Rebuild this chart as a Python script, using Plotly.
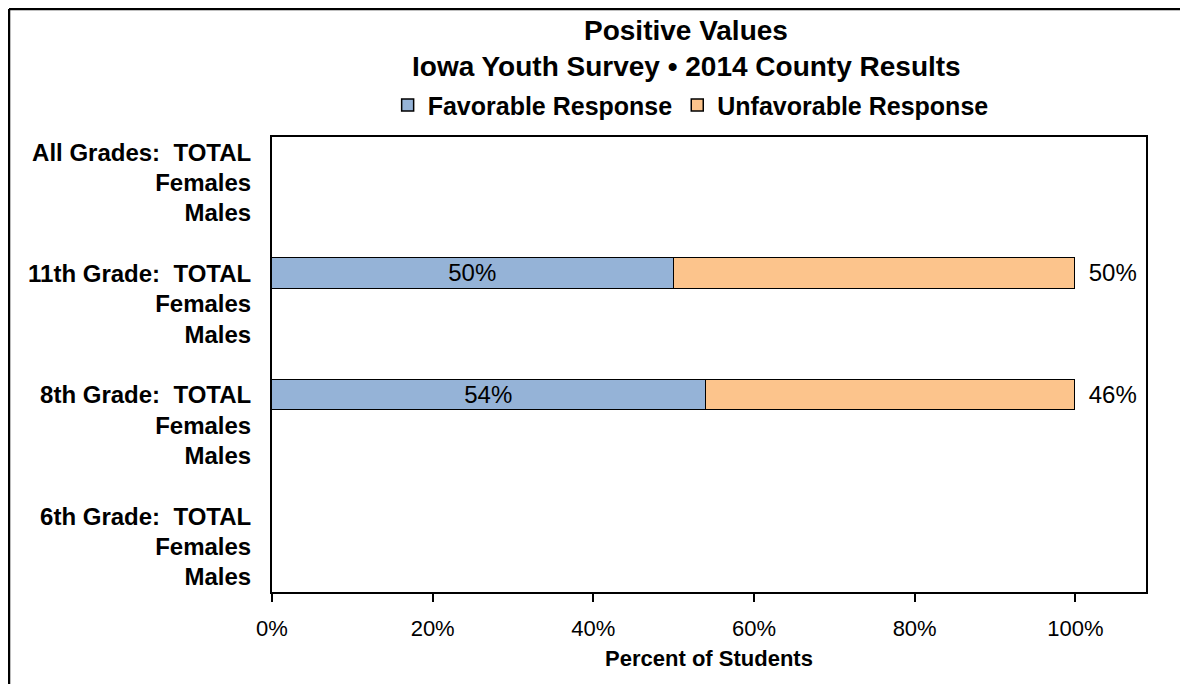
import plotly.graph_objects as go

# rows top to bottom; "" rows are spacers between grade groups
ROW_LABELS = [
    "All Grades:  TOTAL", "Females", "Males", "",
    "11th Grade:  TOTAL", "Females", "Males", "",
    "8th Grade:  TOTAL", "Females", "Males", "",
    "6th Grade:  TOTAL", "Females", "Males",
]
FAVORABLE = [None, None, None, None, 0.50, None, None, None,
             0.54, None, None, None, None, None, None]
UNFAVORABLE = [None, None, None, None, 0.50, None, None, None,
               0.46, None, None, None, None, None, None]
X_TICKS = [0, 0.2, 0.4, 0.6, 0.8, 1.0]
TITLE_LINES = ["Positive Values", "Iowa Youth Survey \u2022 2014 County Results"]

FONT = "Liberation Sans, Arial, sans-serif"
rows = list(range(len(ROW_LABELS)))

fig = go.Figure()
fig.add_bar(y=rows, x=FAVORABLE, orientation="h",
            name="<b>Favorable Response</b>",
            width=1, marker={"color": "#95b3d7",
                             "line": {"color": "black", "width": 1.5}},
            texttemplate="%{x:.0%}", textposition="inside",
            insidetextanchor="middle", constraintext="none",
            textfont={"family": FONT, "size": 24, "color": "black"})
fig.add_bar(y=rows, x=UNFAVORABLE, orientation="h",
            name="<b>Unfavorable Response</b>",
            width=1, marker={"color": "#fcc48c",
                             "line": {"color": "black", "width": 1.5}},
            texttemplate="\u00a0\u2009%{x:.0%}", textposition="outside",
            constraintext="none", cliponaxis=False,
            textfont={"family": FONT, "size": 24, "color": "black"})

# page has an 8px body margin, so the figure is 8px smaller than the window
fig.update_layout(
    template="none",
    width=1180, height=676, barmode="stack", bargap=0,
    paper_bgcolor="white", plot_bgcolor="white",
    margin={"l": 264, "r": 42, "t": 129, "b": 92, "autoexpand": False},
    font={"family": FONT, "color": "black"},
    legend={"orientation": "h", "x": 0.479, "xanchor": "center",
            "y": 1.07, "yanchor": "middle", "font": {"size": 25},
            "traceorder": "normal", "itemwidth": 30},
    showlegend=True,
)
for text, ypos in zip(TITLE_LINES, [1.235, 1.156]):
    fig.add_annotation(text="<b>%s</b>" % text, xref="paper", yref="paper",
                       x=0.474, y=ypos, xanchor="center", yanchor="middle",
                       showarrow=False, font={"size": 28})

fig.update_xaxes(range=[0, 1.088], tickvals=X_TICKS, tickformat=".0%",
                 ticks="outside", ticklen=8, tickwidth=1.5, tickcolor="black",
                 showline=True, linecolor="black", linewidth=2, mirror=True,
                 showgrid=False, zeroline=False, tickfont={"size": 22},
                 automargin=False, ticklabelstandoff=8,
                 title={"text": "<b>Percent of Students</b>",
                        "font": {"size": 22}, "standoff": 10})
fig.update_yaxes(range=[len(ROW_LABELS) - 0.5, -0.5], tickvals=rows,
                 ticktext=["<b>%s</b>" % t for t in ROW_LABELS],
                 ticks="", showline=True, linecolor="black", linewidth=2,
                 mirror=True, showgrid=False, zeroline=False,
                 automargin=False,
                 tickfont={"size": 24}, ticklabelstandoff=14)

# outer chart border (left and top edges visible)
fig.add_shape(type="line", xref="paper", yref="paper", x0=-0.3009, x1=-0.3009,
              y0=1.2813, y1=-0.3, line={"color": "black", "width": 2.5})
fig.add_shape(type="line", xref="paper", yref="paper", x0=-0.3009, x1=1.2,
              y0=1.2813, y1=1.2813, line={"color": "black", "width": 2.5})

fig.write_html("out.html")
